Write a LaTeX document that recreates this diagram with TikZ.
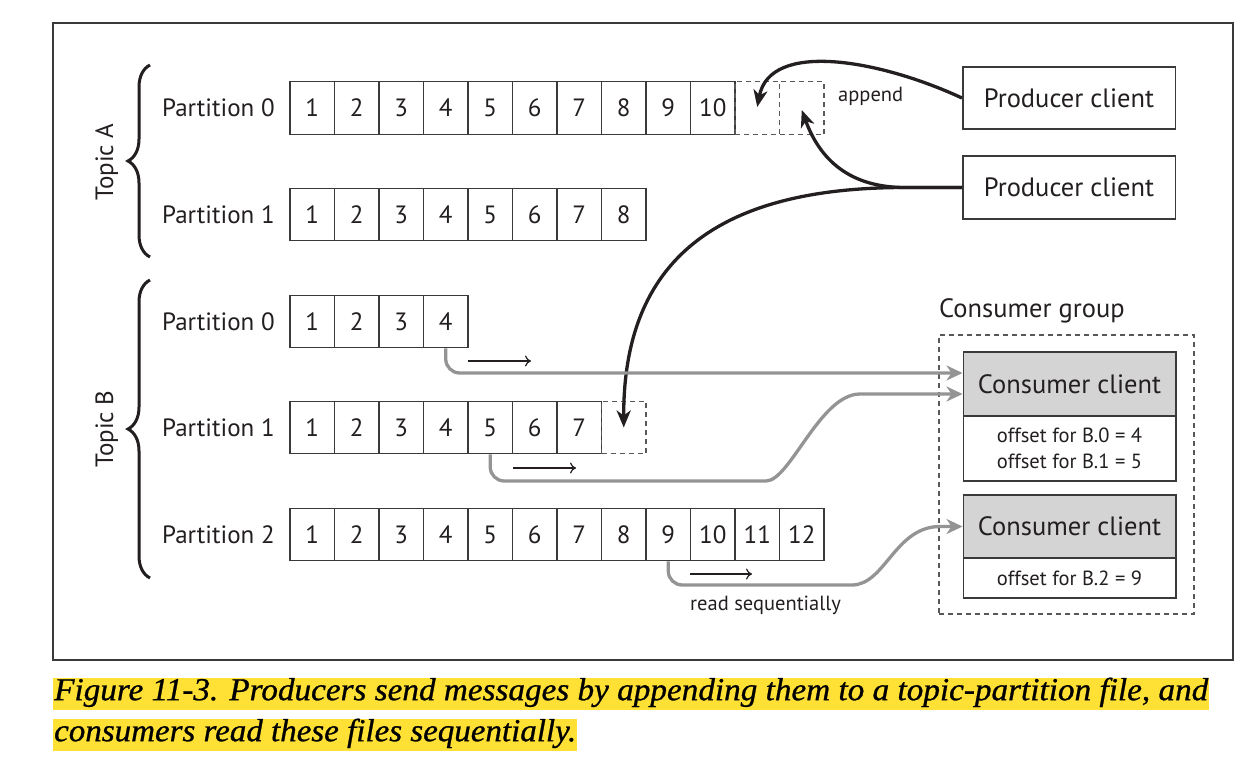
\documentclass[tikz,border=0pt]{standalone}
\usepackage{fontspec}
\usepackage{graphicx}
\setmainfont{PT Sans}
\newfontfamily\capfont[FakeBold=0.8]{Liberation Serif}
\usetikzlibrary{arrows.meta,decorations.pathreplacing,calc}
\definecolor{ink}{HTML}{231F20}
\definecolor{lineg}{HTML}{3A3A3A}
\definecolor{garr}{HTML}{949494}
\definecolor{hdr}{HTML}{D4D4D4}
\definecolor{hl}{HTML}{FFE135}
\begin{document}
\begin{tikzpicture}[x=1pt,y=-1pt,
  every node/.style={text=ink},
  cell/.style={draw=lineg, line width=1.3pt, minimum width=44.5pt, minimum height=52.5pt, inner sep=0pt, font=\fontsize{25}{28}\selectfont},
  dcell/.style={draw=lineg!85, line width=1.3pt, dash pattern=on 5pt off 4pt, minimum width=44.5pt, minimum height=52.5pt, inner sep=0pt},
  plabel/.style={anchor=west, inner sep=0pt, font=\fontsize{25}{28}\selectfont},
  client/.style={draw=lineg, line width=1.5pt, minimum width=212.5pt, inner sep=0pt, font=\fontsize{26.5}{30}\selectfont},
  small/.style={font=\fontsize{20.5}{26}\selectfont},
  blk/.style={draw=ink, line width=3.3pt, -{Stealth[length=17pt,width=14pt,inset=5pt]}},
  gry/.style={draw=garr, line width=3.3pt, -{Stealth[length=16pt,width=15pt,inset=5pt]}},
  seq/.style={draw=ink, line width=1.2pt, -{To[length=6pt,width=11pt]}},
  topic/.style={rotate=90, anchor=base, inner sep=0pt, font=\fontsize{25}{28}\selectfont},
  bracestyle/.style={decorate, decoration={brace, amplitude=22pt}, line width=3pt, draw=ink},
  grpbox/.style={draw=lineg!85, line width=1.3pt, dash pattern=on 5pt off 4pt, minimum width=255pt, minimum height=279pt, inner sep=0pt},
  caption/.style={fill=hl, anchor=north west, inner xsep=1pt, inner ysep=0pt, text height=22pt, text depth=10pt, font={\capfont\itshape\fontsize{32}{36}\selectfont}, text=black}
]
\useasboundingbox (0,0) rectangle (1250,758);
\fill[white] (0,0) rectangle (1250,758);
\draw[line width=1.6pt, lineg] (53,23) rectangle (1233,660);

% Topic A
\foreach \i in {1,...,10} \node[cell] (a0c\i) at ({290+44.5*(\i-0.5)},108) {\i};
\node[dcell] (a0d1) at ({290+44.5*10.5},108) {};
\node[dcell] (a0d2) at ({290+44.5*11.5},108) {};
\foreach \i in {1,...,8} \node[cell] (a1c\i) at ({290+44.5*(\i-0.5)},214.5) {\i};
% Topic B
\foreach \i in {1,...,4} \node[cell] (b0c\i) at ({290+44.5*(\i-0.5)},321.5) {\i};
\foreach \i in {1,...,7} \node[cell] (b1c\i) at ({290+44.5*(\i-0.5)},427.5) {\i};
\node[dcell] (b1d) at ({290+44.5*7.5},427.5) {};
\foreach \i in {1,...,12} \node[cell] (b2c\i) at ({290+44.5*(\i-0.5)},534.5) {\i};

\node[plabel] (la0) at (162,108) {Partition 0};
\node[plabel] (la1) at (162,214.5) {Partition 1};
\node[plabel] (lb0) at (162,321.5) {Partition 0};
\node[plabel] (lb1) at (162,427.5) {Partition 1};
\node[plabel] (lb2) at (162,534.5) {Partition 2};

\node[topic] (ta) at (113,162) {Topic A};
\node[topic] (tb) at (113,429) {Topic B};
\draw[bracestyle] (150,257) -- (150,65);
\draw[bracestyle] (150,578) -- (150,280);

% producers
\node[client, minimum height=62pt] (p1) at (1069,98) {Producer client};
\node[client, minimum height=63pt] (p2) at (1069,187.5) {Producer client};
\node[small, anchor=base west, inner sep=0pt] (app) at (838,101) {append};

% consumers
\node[anchor=base west, inner sep=0pt, font=\fontsize{26.5}{30}\selectfont] (cgl) at (939,317) {Consumer group};
\node[grpbox] (grp) at (1066.5,474.5) {};
\node[client, fill=hdr, minimum height=64pt] (c1h) at (1069.5,384) {Consumer client};
\node[client, minimum height=65pt, align=center, small] (c1b) at (1069.5,448.5) {offset for B.0 = 4\\offset for B.1 = 5};
\node[client, fill=hdr, minimum height=63pt] (c2h) at (1069.5,526.5) {Consumer client};
\node[client, minimum height=40pt, small] (c2b) at (1069.5,578) {offset for B.2 = 9};

% black arrows
\coordinate (split) at (905,187.5);
\draw[blk] (p1.west) .. controls (880,60) and (770,40) .. ([yshift=1pt]a0d1.center);
\draw[blk] (p2.west) -- (split) .. controls (850,187.5) and (820,160) .. ([yshift=-2pt]a0d2.center);
\draw[blk] (p2.west) -- (split) .. controls (730,187.5) and (623,250) .. (b1d.center);

% gray arrows
\draw[gry, rounded corners=14pt] (b0c4.south) |- ([yshift=11pt]c1h.west);
\draw[gry] (b1c5.south) [rounded corners=14pt] |- (752,481) [sharp corners] .. controls (790,481) and (820,394) .. (860,394) -- ([yshift=-10pt]c1h.west);
\draw[gry] (b2c9.south) [rounded corners=14pt] |- (838,585) [sharp corners] .. controls (885,585) and (895,526.5) .. (940,526.5) -- (c2h.west);

% read sequentially arrows
\coordinate (s1a) at (468,361); \coordinate (s1b) at (531,361);
\coordinate (s2a) at (513,468); \coordinate (s2b) at (576,468);
\coordinate (s3a) at (690,574); \coordinate (s3b) at (752,574);
\draw[seq] (s1a) -- (s1b);
\draw[seq] (s2a) -- (s2b);
\draw[seq] (s3a) -- (s3b);
\node[small, anchor=base west, inner sep=0pt] (rs) at (690,610) {read sequentially};

% caption
\node[caption] (cap1) at (53,678) {\resizebox{1154pt}{\height}{Figure 11-3. Producers send messages by appending them to a topic-partition file, and}};
\node[caption] (cap2) at (53,719) {\resizebox{522pt}{\height}{consumers read these files sequentially.}};
\end{tikzpicture}
\end{document}
